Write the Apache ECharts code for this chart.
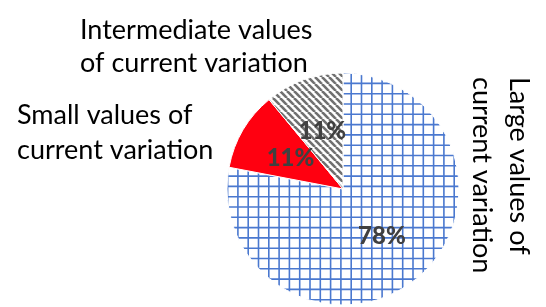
<!DOCTYPE html>
<html>
<head>
<meta charset="utf-8">
<script src="https://cdn.jsdelivr.net/npm/echarts@6/dist/echarts.min.js"></script>
<style>
  html, body { margin: 0; padding: 0; background: #fff; }
  #chart { width: 546px; height: 307px; }
</style>
</head>
<body>
<div id="chart"></div>
<script>
// data
var categories = ['Large values of\ncurrent variation', 'Small values of\ncurrent variation', 'Intermediate values\nof current variation'];
var values = [78, 11, 11];

// fill patterns, like the excel ones
function gridPattern() {
    var c = document.createElement('canvas');
    c.width = 10.3 * 10; c.height = 10.3 * 10;
    var ctx = c.getContext('2d');
    ctx.fillStyle = '#fff';
    ctx.fillRect(0, 0, c.width, c.height);
    ctx.strokeStyle = '#4a78cf';
    ctx.lineWidth = 1.6;
    for (var i = 0; i < 10; i++) {
        var p = i * 10.3 + 1;
        ctx.beginPath(); ctx.moveTo(p, 0); ctx.lineTo(p, c.height); ctx.stroke();
        ctx.beginPath(); ctx.moveTo(0, p); ctx.lineTo(c.width, p); ctx.stroke();
    }
    return c;
}

function stripePattern() {
    var s = 7;
    var c = document.createElement('canvas');
    c.width = s; c.height = s;
    var ctx = c.getContext('2d');
    ctx.fillStyle = '#fff';
    ctx.fillRect(0, 0, s, s);
    ctx.strokeStyle = '#707070';
    ctx.lineWidth = 2.6;
    for (var k = -1; k <= 1; k++) {
        ctx.beginPath();
        ctx.moveTo(k * s, 0);
        ctx.lineTo(k * s + s, s);
        ctx.stroke();
    }
    return c;
}

var fills = [
    { image: gridPattern(), repeat: 'repeat' },
    '#ff0010',
    { image: stripePattern(), repeat: 'repeat' }
];

var chart = echarts.init(document.getElementById('chart'), null, { renderer: 'canvas' });

var textFont = '27px Lato';
var option = {
    backgroundColor: '#fff',
    animation: false,
    series: [{
        type: 'pie',
        center: [343, 189],
        radius: 116,
        startAngle: 90,
        clockwise: true,
        silent: true,
        itemStyle: { borderColor: '#fff', borderWidth: 1 },
        label: {
            show: true,
            position: 'inside',
            formatter: '{d}%',
            fontFamily: 'Lato',
            fontWeight: 900,
            fontSize: 24,
            color: '#404040'
        },
        labelLine: { show: false },
        data: values.map(function (v, i) {
            return { name: categories[i], value: v, itemStyle: { color: fills[i] } };
        })
    }],
    graphic: [
        {
            type: 'text', x: 80, y: 14,
            style: { text: categories[2], font: textFont, fill: '#000', lineHeight: 33, textVerticalAlign: 'top' }
        },
        {
            type: 'text', x: 17, y: 98,
            style: { text: categories[1], font: textFont, fill: '#000', lineHeight: 35, textVerticalAlign: 'top' }
        },
        {
            type: 'text', x: 537, y: 77, rotation: -Math.PI / 2,
            style: { text: categories[0], font: textFont, fill: '#000', lineHeight: 37, textVerticalAlign: 'top' }
        }
    ]
};
chart.setOption(option);
</script>
</body>
</html>
